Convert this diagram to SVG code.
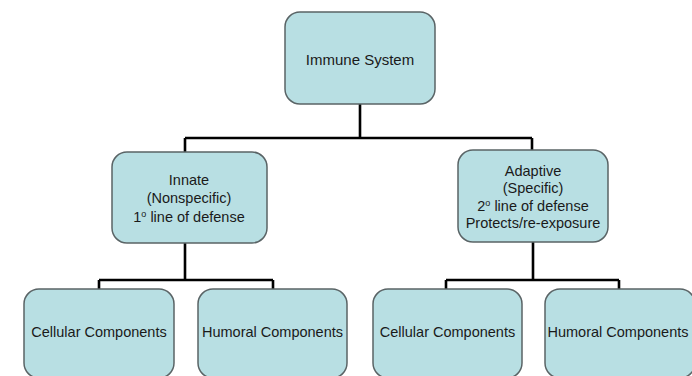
<svg xmlns="http://www.w3.org/2000/svg" width="692" height="376" viewBox="0 0 692 376">
<style>
.box{fill:#b8dfe3;stroke:#5a6466;stroke-width:1.5}
.t{font-family:"Liberation Sans",Arial,sans-serif;font-size:14.5px;fill:#1a1a1a;text-anchor:middle}
.c{fill:none;stroke:#000;stroke-width:2.6}
</style>
<rect width="692" height="376" fill="#fff"/>
<g id="connectors">
<path class="c" d="M360 104V138M185 138H532M185 138V152M532 138V150"/>
<path class="c" d="M185 243V280M99 280H273M99 280V289M273 280V289"/>
<path class="c" d="M533 242V280M446 280H619M446 280V289M619 280V289"/>
</g>
<g id="immune">
<rect class="box" x="285" y="12" width="150" height="92" rx="15"/>
<text class="t" x="360" y="65" style="font-size:15px">Immune System</text>
</g>
<g id="innate">
<rect class="box" x="112" y="152" width="155" height="91" rx="15"/>
<text class="t" x="189" y="185">Innate</text>
<text class="t" x="189" y="203">(Nonspecific)</text>
<text class="t" x="189" y="222">1<tspan font-size="9" dy="-5">o</tspan><tspan dy="5"> line of defense</tspan></text>
</g>
<g id="adaptive">
<rect class="box" x="458" y="150" width="150" height="92" rx="15"/>
<text class="t" x="533" y="176">Adaptive</text>
<text class="t" x="533" y="193">(Specific)</text>
<text class="t" x="533" y="211">2<tspan font-size="9" dy="-5">o</tspan><tspan dy="5"> line of defense</tspan></text>
<text class="t" x="533" y="228">Protects/re-exposure</text>
</g>
<g id="innate-cellular">
<rect class="box" x="24" y="289" width="150" height="89" rx="15"/>
<text class="t" x="99" y="337">Cellular Components</text>
</g>
<g id="innate-humoral">
<rect class="box" x="198" y="289" width="149" height="89" rx="15"/>
<text class="t" x="272.5" y="337">Humoral Components</text>
</g>
<g id="adaptive-cellular">
<rect class="box" x="373" y="289" width="149" height="89" rx="15"/>
<text class="t" x="447.5" y="337">Cellular Components</text>
</g>
<g id="adaptive-humoral">
<rect class="box" x="545" y="289" width="150" height="89" rx="15"/>
<text class="t" x="618" y="337">Humoral Components</text>
</g>
</svg>
